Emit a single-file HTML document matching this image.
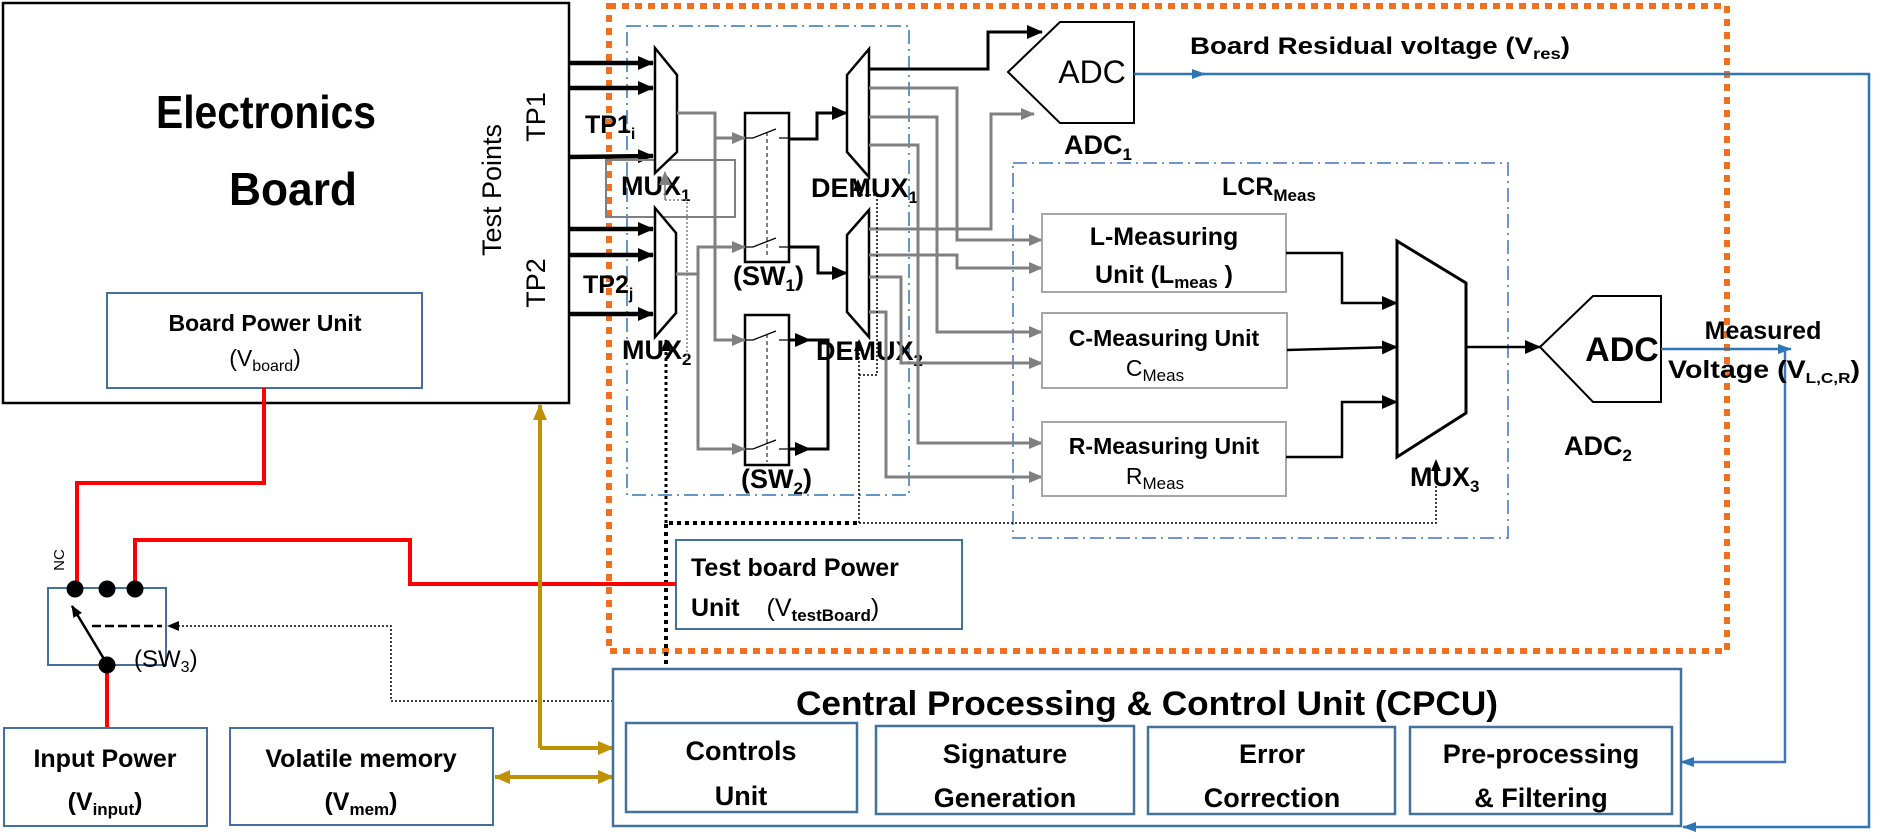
<!DOCTYPE html>
<html><head><meta charset="utf-8"><style>
html,body{margin:0;padding:0;background:#fff;}
svg{display:block;font-family:"Liberation Sans",sans-serif;}
.b{font-weight:bold;}
</style></head><body>
<svg width="1890" height="839" viewBox="0 0 1890 839" xmlns="http://www.w3.org/2000/svg">
<defs>
<marker id="ak" markerUnits="userSpaceOnUse" markerWidth="16" markerHeight="14" refX="15" refY="7" orient="auto"><path d="M0,0 L16,7 L0,14 z" fill="#000"/></marker>
<marker id="ak2" markerUnits="userSpaceOnUse" markerWidth="12" markerHeight="10" refX="11" refY="5" orient="auto"><path d="M0,0 L12,5 L0,10 z" fill="#000"/></marker>
<marker id="ag" markerUnits="userSpaceOnUse" markerWidth="14" markerHeight="12" refX="13" refY="6" orient="auto"><path d="M0,0 L14,6 L0,12 z" fill="#808080"/></marker>
<marker id="ab" markerUnits="userSpaceOnUse" markerWidth="14" markerHeight="10" refX="13" refY="5" orient="auto"><path d="M0,0 L14,5 L0,10 z" fill="#2e75b6"/></marker>
<marker id="ao" markerUnits="userSpaceOnUse" markerWidth="16" markerHeight="14" refX="15" refY="7" orient="auto"><path d="M0,0 L16,7 L0,14 z" fill="#bf9000"/></marker>
<marker id="aos" markerUnits="userSpaceOnUse" markerWidth="16" markerHeight="14" refX="1" refY="7" orient="auto"><path d="M16,0 L0,7 L16,14 z" fill="#bf9000"/></marker>
</defs>

<!-- Electronics board -->
<rect x="3" y="3" width="566" height="400" fill="none" stroke="#000" stroke-width="2.5"/>
<text x="266" y="128" class="b" font-size="46" text-anchor="middle" textLength="220" lengthAdjust="spacingAndGlyphs">Electronics</text>
<text x="293" y="205" class="b" font-size="46" text-anchor="middle" textLength="128" lengthAdjust="spacingAndGlyphs">Board</text>
<rect x="107" y="293" width="315" height="95" fill="none" stroke="#41719c" stroke-width="2"/>
<text x="265" y="331" class="b" font-size="23" text-anchor="middle">Board Power Unit</text>
<text x="265" y="366" font-size="23" text-anchor="middle">(V<tspan font-size="16" dy="5">board</tspan><tspan dy="-5">)</tspan></text>
<text transform="translate(501,190) rotate(-90)" font-size="27" text-anchor="middle">Test Points</text>
<text transform="translate(545,117) rotate(-90)" font-size="27" text-anchor="middle">TP1</text>
<text transform="translate(545,283) rotate(-90)" font-size="27" text-anchor="middle">TP2</text>

<!-- orange dotted -->
<rect x="609" y="6" width="1118" height="645" fill="none" stroke="#f07020" stroke-width="6" stroke-dasharray="7,6"/>
<!-- inner dash-dot -->
<rect x="627" y="26" width="282" height="469" fill="none" stroke="#2e75b6" stroke-width="1.5" stroke-dasharray="14,5,2,5"/>
<!-- LCR dash-dot -->
<rect x="1013" y="163" width="495" height="375" fill="none" stroke="#4472c4" stroke-width="1.5" stroke-dasharray="14,5,2,5"/>

<!-- TP arrows -->
<g stroke="#000" stroke-width="4.5" marker-end="url(#ak)">
<line x1="569" y1="63" x2="653" y2="63"/><line x1="569" y1="88" x2="653" y2="88"/><line x1="569" y1="157" x2="653" y2="156"/>
<line x1="569" y1="229" x2="653" y2="229"/><line x1="569" y1="255" x2="653" y2="255"/><line x1="569" y1="314" x2="653" y2="314"/>
</g>
<text x="585" y="133" class="b" font-size="25">TP1<tspan font-size="16" dy="6">i</tspan></text>
<text x="583" y="293" class="b" font-size="25">TP2<tspan font-size="16" dy="6">j</tspan></text>

<!-- gray box -->
<rect x="606" y="160" width="129" height="57" fill="none" stroke="#808080" stroke-width="2"/>

<!-- MUX1, MUX2 -->
<polygon points="655,48 677,75 677,152 655,173" fill="#fff" stroke="#000" stroke-width="2.5"/>
<polygon points="655,208 676,233 676,313 655,337" fill="#fff" stroke="#000" stroke-width="2.5"/>
<text x="621" y="195" class="b" font-size="27">MUX<tspan font-size="17" dy="6">1</tspan></text>
<text x="622" y="359" class="b" font-size="27">MUX<tspan font-size="17" dy="6">2</tspan></text>

<!-- DEMUX -->
<polygon points="847,75 869,49 869,177 847,152" fill="#fff" stroke="#000" stroke-width="2.5"/>
<polygon points="847,235 869,210 869,337 847,312" fill="#fff" stroke="#000" stroke-width="2.5"/>
<text x="811" y="197" class="b" font-size="27">DEMUX<tspan font-size="17" dy="6">1</tspan></text>
<text x="816" y="360" class="b" font-size="27">DEMUX<tspan font-size="17" dy="6">2</tspan></text>

<!-- SW1 / SW2 -->
<rect x="745" y="113" width="44" height="149" fill="none" stroke="#000" stroke-width="2.5"/>
<rect x="745" y="315" width="44" height="150" fill="none" stroke="#000" stroke-width="2.5"/>
<g stroke="#000" stroke-width="1.3" fill="none">
<path d="M745,138 H753 L776,129 M779,138 H789"/>
<path d="M745,247 H753 L776,238 M779,247 H789"/>
<path d="M745,340 H753 L776,331 M779,340 H789"/>
<path d="M745,449 H753 L776,440 M779,449 H789"/>
</g>
<g stroke="#000" stroke-width="1" stroke-dasharray="4,3"><line x1="767" y1="132" x2="767" y2="258"/><line x1="767" y1="334" x2="767" y2="462"/></g>
<text x="733" y="285" class="b" font-size="27">(SW<tspan font-size="17" dy="6">1</tspan><tspan dy="-6">)</tspan></text>
<text x="741" y="488" class="b" font-size="27">(SW<tspan font-size="17" dy="6">2</tspan><tspan dy="-6">)</tspan></text>

<!-- gray MUX outputs -->
<g stroke="#808080" stroke-width="3" fill="none" marker-end="url(#ag)">
<path d="M677,113 H715 V138 H745"/>
<path d="M715,138 V340 H745"/>
<path d="M676,274 H698 V247 H745"/>
<path d="M698,274 V449 H745"/>
</g>
<!-- black SW outputs -->
<g stroke="#000" stroke-width="3" fill="none" marker-end="url(#ak)">
<path d="M789,139 H817 V113 H847"/>
<path d="M789,247 H818 V273 H847"/>
<path d="M789,340 H810"/>
<path d="M789,449 H810"/>
</g>
<path d="M805,340 H828 V449 H805" stroke="#000" stroke-width="3" fill="none"/>

<!-- DEMUX outputs -->
<path d="M869,69 H988 V32 H1042" stroke="#000" stroke-width="3" fill="none" marker-end="url(#ak)"/>
<g stroke="#808080" stroke-width="3" fill="none" marker-end="url(#ag)">
<path d="M869,88 H957 V240 H1042"/>
<path d="M869,117 H937 V332 H1042"/>
<path d="M869,145 H918 V443 H1042"/>
<path d="M869,229 H991 V114 H1034"/>
<path d="M869,255 H957 V268 H1042"/>
<path d="M869,277 H901 V363 H1042"/>
<path d="M869,312 H886 V477 H1042"/>
</g>

<!-- ADC1 -->
<polygon points="1008,72 1060,22 1134,22 1134,123 1060,123" fill="none" stroke="#000" stroke-width="2"/>
<text x="1092" y="83" font-size="32" text-anchor="middle">ADC</text>
<text x="1098" y="154" class="b" font-size="27" text-anchor="middle">ADC<tspan font-size="17" dy="6">1</tspan></text>
<text x="1190" y="54" class="b" font-size="24" textLength="380" lengthAdjust="spacingAndGlyphs">Board Residual voltage (V<tspan font-size="16" dy="5">res</tspan><tspan dy="-5">)</tspan></text>
<path d="M1134,74 H1205" stroke="#2e75b6" stroke-width="2.5" marker-end="url(#ab)"/>
<path d="M1200,74 H1869 V827 H1683" stroke="#2e75b6" stroke-width="2.5" fill="none" marker-end="url(#ab)"/>

<!-- LCR units -->
<text x="1222" y="195" class="b" font-size="25">LCR<tspan font-size="17" dy="6">Meas</tspan></text>
<rect x="1042" y="214" width="244" height="78" fill="#fff" stroke="#a6a6a6" stroke-width="2"/>
<text x="1164" y="245" class="b" font-size="25" text-anchor="middle">L-Measuring</text>
<text x="1164" y="283" class="b" font-size="25" text-anchor="middle">Unit (L<tspan font-size="17" dy="5">meas</tspan><tspan dy="-5"> )</tspan></text>
<rect x="1042" y="313" width="245" height="75" fill="#fff" stroke="#a6a6a6" stroke-width="2"/>
<text x="1164" y="346" class="b" font-size="23" text-anchor="middle">C-Measuring Unit</text>
<text x="1155" y="376" font-size="23" text-anchor="middle">C<tspan font-size="17" dy="5">Meas</tspan></text>
<rect x="1042" y="422" width="244" height="74" fill="#fff" stroke="#a6a6a6" stroke-width="2"/>
<text x="1164" y="454" class="b" font-size="23" text-anchor="middle">R-Measuring Unit</text>
<text x="1155" y="484" font-size="23" text-anchor="middle">R<tspan font-size="17" dy="5">Meas</tspan></text>

<!-- MUX3 -->
<g stroke="#000" stroke-width="2.5" fill="none" marker-end="url(#ak)">
<path d="M1286,253 H1342 V303 H1397"/>
<path d="M1287,350 L1397,347"/>
<path d="M1286,457 H1342 V402 H1397"/>
<path d="M1466,347 H1540"/>
</g>
<polygon points="1397,241 1466,283 1466,413 1397,457" fill="#fff" stroke="#000" stroke-width="3"/>
<text x="1410" y="486" class="b" font-size="27">MUX<tspan font-size="17" dy="6">3</tspan></text>

<!-- ADC2 -->
<polygon points="1540,347 1593,296 1661,296 1661,402 1593,402" fill="#fff" stroke="#000" stroke-width="2"/>
<text x="1622" y="361" class="b" font-size="34" text-anchor="middle">ADC</text>
<text x="1598" y="455" class="b" font-size="27" text-anchor="middle">ADC<tspan font-size="17" dy="6">2</tspan></text>
<path d="M1661,349 H1791" stroke="#2e75b6" stroke-width="2.5" marker-end="url(#ab)"/>
<path d="M1785,349 V762 H1681" stroke="#4472c4" stroke-width="2.5" fill="none" marker-end="url(#ab)"/>
<text x="1763" y="339" class="b" font-size="25" text-anchor="middle">Measured</text>
<text x="1668" y="378" class="b" font-size="25" textLength="192" lengthAdjust="spacingAndGlyphs">Voltage (V<tspan font-size="15" dy="5">L,C,R</tspan><tspan dy="-5">)</tspan></text>

<!-- control dotted lines -->
<path d="M665,200 H687 V360" stroke="#808080" stroke-width="1.5" stroke-dasharray="2,2" fill="none"/>
<path d="M665,200 V172" stroke="#808080" stroke-width="1.5" marker-end="url(#ag)"/>
<path d="M666,672 V523 H859" stroke="#000" stroke-width="4" stroke-dasharray="4,4" fill="none"/>
<path d="M666,523 V340" stroke="#000" stroke-width="3" stroke-dasharray="3,3" fill="none" marker-end="url(#ak2)"/>
<path d="M859,523 V340" stroke="#000" stroke-width="1.5" stroke-dasharray="2,2" fill="none" marker-end="url(#ak2)"/>
<path d="M859,523 H1436 V460" stroke="#000" stroke-width="1.5" stroke-dasharray="2,2" fill="none" marker-end="url(#ak2)"/>
<path d="M859,375 H877 V195 H858 V180" stroke="#000" stroke-width="1.5" stroke-dasharray="2,2" fill="none" marker-end="url(#ak2)"/>

<!-- Test board power -->
<rect x="676" y="540" width="286" height="89" fill="#fff" stroke="#41719c" stroke-width="2"/>
<text x="691" y="576" class="b" font-size="25">Test board Power</text>
<text x="691" y="616" class="b" font-size="25">Unit <tspan font-weight="normal" dx="20">(V</tspan><tspan font-size="17" dy="5">testBoard</tspan><tspan dy="-5" font-weight="normal">)</tspan></text>

<!-- red power lines -->
<g stroke="#ff0000" stroke-width="4" fill="none">
<path d="M264,388 V483 H77 V582"/>
<path d="M135,582 V540 H410 V584 H676"/>
<path d="M107,665 V728"/>
</g>
<rect x="48" y="588" width="118" height="77" fill="none" stroke="#41719c" stroke-width="2"/>
<circle cx="75" cy="589" r="8.5"/><circle cx="107" cy="589" r="8.5"/><circle cx="135" cy="589" r="8.5"/>
<circle cx="107" cy="665" r="8.5"/>
<path d="M104,659 L72,606" stroke="#000" stroke-width="2.5" marker-end="url(#ak2)"/>
<line x1="92" y1="626" x2="162" y2="626" stroke="#000" stroke-width="2.5" stroke-dasharray="9,4"/>
<path d="M613,701 H391 V626 H168" stroke="#000" stroke-width="1.5" stroke-dasharray="2,2" fill="none" marker-end="url(#ak2)"/>
<text transform="translate(64,560) rotate(-90)" font-size="15" text-anchor="middle">NC</text>
<text x="134" y="667" font-size="24">(SW<tspan font-size="16" dy="5">3</tspan><tspan dy="-5">)</tspan></text>

<!-- Input power / memory -->
<rect x="4" y="728" width="203" height="98" fill="#fff" stroke="#41719c" stroke-width="2"/>
<text x="105" y="767" class="b" font-size="25" text-anchor="middle">Input Power</text>
<text x="105" y="810" class="b" font-size="25" text-anchor="middle">(V<tspan font-size="17" dy="5">input</tspan><tspan dy="-5">)</tspan></text>
<rect x="230" y="728" width="263" height="97" fill="#fff" stroke="#41719c" stroke-width="2"/>
<text x="361" y="767" class="b" font-size="25" text-anchor="middle">Volatile memory</text>
<text x="361" y="810" class="b" font-size="25" text-anchor="middle">(V<tspan font-size="17" dy="5">mem</tspan><tspan dy="-5">)</tspan></text>

<!-- gold -->
<path d="M540,748 V405" stroke="#bf9000" stroke-width="4" fill="none" marker-end="url(#ao)"/>
<path d="M540,748 H613" stroke="#bf9000" stroke-width="4" fill="none" marker-end="url(#ao)"/>
<path d="M495,777 H613" stroke="#bf9000" stroke-width="4" fill="none" marker-start="url(#aos)" marker-end="url(#ao)"/>

<!-- CPCU -->
<rect x="613" y="669" width="1068" height="157" fill="#fff" stroke="#41719c" stroke-width="2.5"/>
<text x="796" y="715" class="b" font-size="34" textLength="702" lengthAdjust="spacingAndGlyphs">Central Processing &amp; Control Unit (CPCU)</text>
<g fill="none" stroke="#41719c" stroke-width="2.5">
<rect x="626" y="723" width="231" height="89"/>
<rect x="876" y="726" width="258" height="88"/>
<rect x="1148" y="727" width="247" height="87"/>
<rect x="1410" y="727" width="262" height="87"/>
</g>
<g class="b" font-size="27" text-anchor="middle">
<text x="741" y="760">Controls</text><text x="741" y="805">Unit</text>
<text x="1005" y="763">Signature</text><text x="1005" y="807">Generation</text>
<text x="1272" y="763">Error</text><text x="1272" y="807">Correction</text>
<text x="1541" y="763">Pre-processing</text><text x="1541" y="807">&amp; Filtering</text>
</g>
</svg>
</body></html>
